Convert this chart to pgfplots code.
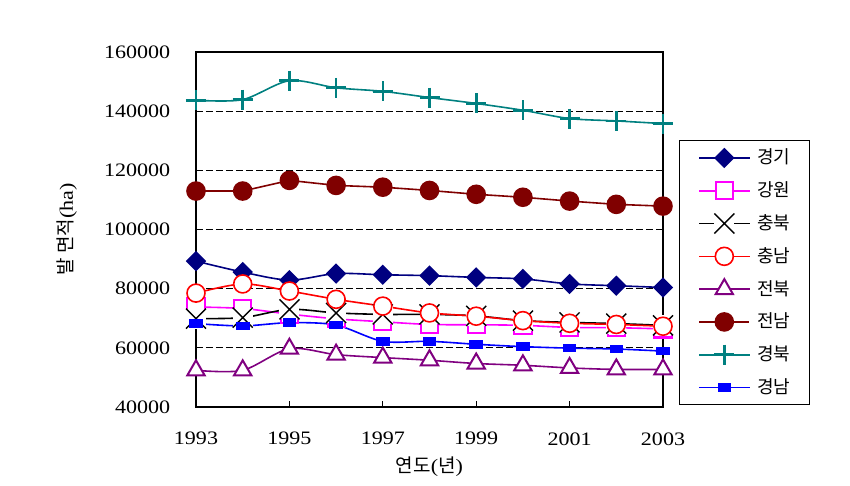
\documentclass[border=0pt]{standalone}
\usepackage{pgfplots}
\pgfplotsset{compat=1.18}
\usepackage{fontspec}
\setmainfont[FakeStretch=1.16]{Liberation Serif}
\newfontfamily\kr{Noto Sans CJK KR}
\definecolor{cNavy}{RGB}{0,0,128}
\definecolor{cMag}{RGB}{255,0,255}
\definecolor{cRed}{RGB}{255,0,0}
\definecolor{cPurple}{RGB}{128,0,128}
\definecolor{cDarkRed}{RGB}{128,0,0}
\definecolor{cTeal}{RGB}{0,128,128}
\definecolor{cBlue}{RGB}{0,0,255}
\pgfdeclareplotmark{xbox}{%
  \pgfpathrectangle{\pgfqpoint{-\pgfplotmarksize}{-\pgfplotmarksize}}{\pgfqpoint{2\pgfplotmarksize}{2\pgfplotmarksize}}%
  \pgfsetfillcolor{white}\pgfusepathqfill
  \pgfpathmoveto{\pgfqpoint{-\pgfplotmarksize}{-\pgfplotmarksize}}%
  \pgfpathlineto{\pgfqpoint{\pgfplotmarksize}{\pgfplotmarksize}}%
  \pgfpathmoveto{\pgfqpoint{-\pgfplotmarksize}{\pgfplotmarksize}}%
  \pgfpathlineto{\pgfqpoint{\pgfplotmarksize}{-\pgfplotmarksize}}%
  \pgfusepathqstroke}
\begin{document}
\begin{tikzpicture}
\useasboundingbox (-98pt,-39.5pt) rectangle (327pt,203.5pt);
\begin{axis}[
  scale only axis, width=233.5pt, height=177.5pt,
  xmin=1993, xmax=2003, ymin=40000, ymax=160000,
  xtick={1993,1995,...,2003}, ytick={40000,60000,...,160000},
  tick align=inside, xtick pos=bottom, ytick pos=left, major tick length=3pt,
  axis line style={line width=1pt},
  every tick/.style={black, line width=0.5pt},
  ymajorgrids, grid style={black, dash pattern=on 3.3pt off 1.7pt, line width=0.5pt},
  /pgf/number format/fixed,
  /pgf/number format/precision=0,
  /pgf/number format/assume math mode=true,
  /pgf/number format/1000 sep={},
  scaled y ticks=false, scaled x ticks=false,
  ticklabel style={font=\fontsize{9.5}{11}\selectfont},
  yticklabel style={anchor=east, inner sep=0pt, xshift=-12.7pt},
  xticklabel style={anchor=north, inner sep=0pt, yshift=-12.5pt},
  xlabel={{\kr 연도}({\kr 년})},
  ylabel={{\kr 발 면적}(ha)},
  xlabel style={at={(axis description cs:0.5,-0.169)}, anchor=center, font=\fontsize{9.5}{11}\selectfont},
  ylabel style={at={(axis description cs:-0.276,0.5)}, anchor=center, font=\fontsize{9.5}{11}\selectfont},
  clip=false,
  legend cell align=left,
  legend style={at={(rel axis cs:1.0343,0.752)}, anchor=north west, draw=black, line width=0.5pt,
    inner xsep=9.5pt, inner ysep=0.5pt, column sep=3.5pt, row sep=0pt,
    nodes={inner sep=0pt, anchor=west, minimum height=16.4pt, font=\kr\fontsize{9}{10}\selectfont}},
  legend image code/.code={\draw[mark repeat=2, mark phase=2] plot coordinates {(0pt,0pt) (12.5pt,0pt) (25pt,0pt)};},
]
\addplot[cNavy, line width=0.8pt, smooth, tension=0.5, mark=square*, mark size=3.2pt, mark options={rotate=45, solid, fill=cNavy}]
coordinates {(1993,89300) (1994,85600) (1995,82900) (1996,85100) (1997,84700) (1998,84400) (1999,83800) (2000,83300) (2001,81600) (2002,81000) (2003,80400)};
\addlegendentry{경기}
\addplot[cMag, line width=0.8pt, smooth, tension=0.5, mark=square*, mark size=4.3pt, mark options={fill=white, line width=1pt}]
coordinates {(1993,73800) (1994,73300) (1995,71400) (1996,69800) (1997,68800) (1998,67900) (1999,67800) (2000,67600) (2001,66900) (2002,66800) (2003,66400)};
\addlegendentry{강원}
\addplot[black, line width=0.8pt, smooth, tension=0.5, mark=xbox, mark size=5pt, mark options={line width=0.7pt}]
coordinates {(1993,69900) (1994,70200) (1995,73000) (1996,71800) (1997,71300) (1998,71300) (1999,70800) (2000,69200) (2001,68600) (2002,68200) (2003,67600)};
\addlegendentry{충북}
\addplot[cRed, line width=0.8pt, smooth, tension=0.5, mark=*, mark size=4.5pt, mark options={fill=white, line width=0.8pt}]
coordinates {(1993,78500) (1994,81600) (1995,79200) (1996,76400) (1997,74100) (1998,71800) (1999,70700) (2000,69200) (2001,68300) (2002,67900) (2003,67300)};
\addlegendentry{충남}
\addplot[cPurple, line width=0.8pt, smooth, tension=0.5, mark=triangle*, mark size=5pt, mark options={fill=white, line width=1pt}]
coordinates {(1993,52400) (1994,52400) (1995,59700) (1996,57700) (1997,56700) (1998,55800) (1999,54700) (2000,54100) (2001,53200) (2002,52700) (2003,52700)};
\addlegendentry{전북}
\addplot[cDarkRed, line width=0.8pt, mark=*, mark size=4.5pt, mark options={fill=cDarkRed}]
coordinates {(1993,113000) (1994,113000) (1995,116600) (1996,114900) (1997,114300) (1998,113200) (1999,111900) (2000,110900) (2001,109600) (2002,108500) (2003,107900)};
\addlegendentry{전남}
\addplot[cTeal, line width=0.8pt, smooth, tension=0.5, mark=+, mark size=5pt, mark options={line width=1.3pt}]
coordinates {(1993,143700) (1994,143900) (1995,150300) (1996,147900) (1997,146700) (1998,144600) (1999,142600) (2000,140300) (2001,137500) (2002,136700) (2003,135800)};
\addlegendentry{경북}
\addplot[cBlue, line width=0.8pt, smooth, tension=0.5, mark=square*, mark size=3pt, mark options={yscale=0.58, fill=cBlue}]
coordinates {(1993,68200) (1994,67400) (1995,68500) (1996,67700) (1997,62200) (1998,62200) (1999,61200) (2000,60400) (2001,59900) (2002,59600) (2003,58900)};
\addlegendentry{경남}
\end{axis}
\end{tikzpicture}
\end{document}
